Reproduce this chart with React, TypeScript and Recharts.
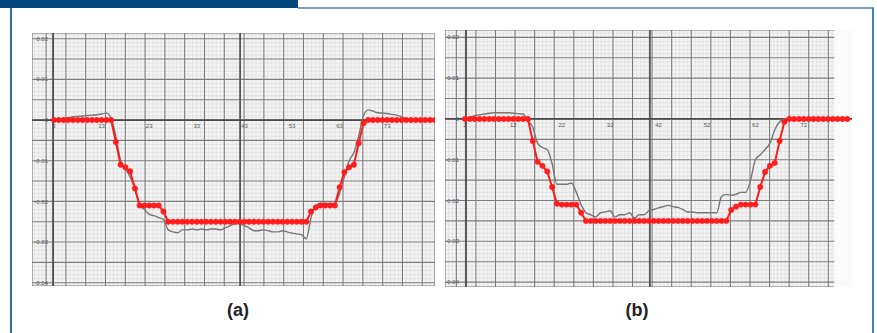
import React from 'react';
import {
  LineChart,
  Line,
  XAxis,
  YAxis,
  CartesianGrid,
  ReferenceLine,
  ReferenceDot,
  ReferenceArea,
} from 'recharts';

// panel (a): positions 3..83
const daysA = [
  3, 4, 5, 6, 7, 8, 9, 10, 11, 12, 13, 14, 15, 16, 17, 18, 19, 20, 21, 22, 23, 24, 25, 26, 27, 28, 29,
  30, 31, 32, 33, 34, 35, 36, 37, 38, 39, 40, 41, 42, 43, 44, 45, 46, 47, 48, 49, 50, 51, 52, 53, 54, 55,
  56, 57, 58, 59, 60, 61, 62, 63, 64, 65, 66, 67, 68, 69, 70, 71, 72, 73, 74, 75, 76, 77, 78, 79, 80, 81,
  82, 83,
];
const redA = [
  0, 0, 0, 0, 0, 0, 0, 0, 0, 0, 0, 0, 0,
  -0.0054, -0.011, -0.0116, -0.0126, -0.0168, -0.021, -0.021, -0.021, -0.021, -0.021, -0.0225,
  -0.025, -0.025, -0.025, -0.025, -0.025, -0.025, -0.025, -0.025, -0.025, -0.025,
  -0.025, -0.025, -0.025, -0.025, -0.025, -0.025, -0.025, -0.025, -0.025, -0.025,
  -0.025, -0.025, -0.025, -0.025, -0.025, -0.025, -0.025, -0.025, -0.025, -0.025,
  -0.0225, -0.0215, -0.021, -0.021, -0.021, -0.021,
  -0.0165, -0.0128, -0.0116, -0.011, -0.0057, -0.0008,
  0, 0, 0, 0, 0, 0, 0, 0, 0, 0, 0, 0, 0, 0, 0,
];
const grayA = [
  0, 0.0002, 0.0004, 0.0006, 0.0008, 0.0009, 0.001, 0.0011, 0.0012, 0.0013, 0.0015, 0.0017, 0.0005,
  -0.004, -0.01, -0.012, -0.014, -0.017, -0.021, -0.022, -0.0232, -0.0235, -0.024, -0.0245,
  -0.027, -0.0275, -0.0277, -0.027, -0.027, -0.0268, -0.027, -0.0268, -0.027, -0.0268,
  -0.0268, -0.027, -0.0265, -0.026, -0.0255, -0.0255, -0.026, -0.0265, -0.0272, -0.0272,
  -0.027, -0.0272, -0.0275, -0.0275, -0.0272, -0.0275, -0.0278, -0.028, -0.0282, -0.0292,
  -0.024, -0.021, -0.0205, -0.0205, -0.0205, -0.0205,
  -0.018, -0.014, -0.01, -0.008, -0.004, 0.001,
  0.0025, 0.0022, 0.0018, 0.0017, 0.0016, 0.0014, 0.0012, 0.0008, 0.0004, 0.0002, 0, -0.0001, -0.0003,
  -0.0001, 0,
];

// panel (b): positions 2..81
const daysB = [
  2, 3, 4, 5, 6, 7, 8, 9, 10, 11, 12, 13, 14, 15, 16, 17, 18, 19, 20, 21, 22, 23, 24, 25, 26, 27, 28, 29,
  30, 31, 32, 33, 34, 35, 36, 37, 38, 39, 40, 41, 42, 43, 44, 45, 46, 47, 48, 49, 50, 51, 52, 53, 54, 55,
  56, 57, 58, 59, 60, 61, 62, 63, 64, 65, 66, 67, 68, 69, 70, 71, 72, 73, 74, 75, 76, 77, 78, 79, 80, 81,
];
const redB = [
  0, 0, 0, 0, 0, 0, 0, 0, 0, 0, 0, 0, 0, 0,
  -0.0054, -0.0105, -0.0115, -0.0129, -0.0167, -0.0208, -0.021, -0.021, -0.021, -0.021, -0.023,
  -0.025, -0.025, -0.025, -0.025, -0.025, -0.025, -0.025, -0.025, -0.025, -0.025,
  -0.025, -0.025, -0.025, -0.025, -0.025, -0.025, -0.025, -0.025, -0.025, -0.025,
  -0.025, -0.025, -0.025, -0.025, -0.025, -0.025, -0.025, -0.025, -0.025, -0.025,
  -0.0223, -0.0215, -0.021, -0.021, -0.021, -0.021,
  -0.0167, -0.013, -0.0115, -0.0108, -0.0054, -0.0007,
  0, 0, 0, 0, 0, 0, 0, 0, 0, 0, 0, 0, 0,
];
const grayB = [
  0, 0.0004, 0.0008, 0.001, 0.0012, 0.0014, 0.0015, 0.0015, 0.0015, 0.0015, 0.0014, 0.0013, 0.0012,
  -0.0005, -0.002, -0.006, -0.007, -0.0075, -0.011, -0.016, -0.016, -0.016, -0.0157, -0.018, -0.021,
  -0.023, -0.0235, -0.024, -0.023, -0.0228, -0.0225, -0.024, -0.0235, -0.0235, -0.023, -0.0243,
  -0.0235, -0.0235, -0.0225, -0.0222, -0.0218, -0.0215, -0.0212, -0.0215, -0.0217, -0.0222, -0.0228,
  -0.0228, -0.023, -0.023, -0.023, -0.023, -0.023, -0.019, -0.0185, -0.0187, -0.0185, -0.018, -0.018,
  -0.015, -0.01, -0.0088, -0.0075, -0.006, -0.0027, -0.0007, 0,
  0, 0, 0, 0, 0, 0, 0, 0, 0, 0, 0, 0, 0,
];

const yLabels = [0.02, 0.01, 0, -0.01, -0.02, -0.03, -0.04];
const xLabelsA = [3, 13, 23, 33, 43, 53, 63, 73];
const xLabelsB = [2, 12, 22, 32, 42, 52, 62, 72];

// graph paper lines
const majorXA = [-1.13, 2.8, 6.73, 10.66, 14.59, 18.52, 22.45, 26.38, 30.31, 34.24, 38.17, 42.1, 46.03, 49.96, 53.89, 57.82, 61.75, 65.68, 69.61, 73.54, 77.47, 81.4];
const majorXB = [-1.6, 2.2, 6.0, 9.8, 13.6, 17.4, 21.2, 25.0, 28.8, 32.6, 36.4, 40.2, 44.0, 47.8, 51.6, 55.4, 59.2, 63.0, 66.8, 70.6, 74.4, 78.2];
const majorY = [0.02, 0.015, 0.01, 0.005, 0, -0.005, -0.01, -0.015, -0.02, -0.025, -0.03, -0.035, -0.04];

const subdivide = (major: number[], n: number, lo: number, hi: number) => {
  const s = [...major].sort((a, b) => a - b);
  const out: number[] = [];
  const step = (s[1] - s[0]) / n;
  for (let v = s[0] - step; v > lo; v -= step) out.push(v);
  for (let i = 0; i < s.length - 1; i++) {
    for (let k = 1; k < n; k++) out.push(s[i] + ((s[i + 1] - s[i]) * k) / n);
  }
  for (let v = s[s.length - 1] + step; v < hi; v += step) out.push(v);
  return out.sort((a, b) => a - b);
};

const FONT = '"Liberation Sans", Arial, sans-serif';

interface PanelProps {
  days: number[];
  red: number[];
  gray: number[];
  xLabels: number[];
  majorX: number[];
  xDomain: [number, number];
  yDomain: [number, number];
  axisX: number;
  centerX: number;
  yLabelX: number;
  paperEnd?: number;
  width: number;
  height: number;
  left: number;
  top: number;
}

function Panel(p: PanelProps) {
  const data = p.days.map((d, i) => ({ x: d, red: p.red[i], gray: p.gray[i] }));
  const minorX = subdivide(p.majorX, 5, p.xDomain[0], p.xDomain[1]);
  const minorY = subdivide(majorY, 5, p.yDomain[0], p.yDomain[1]);
  return (
    <div style={{ position: 'absolute', left: p.left, top: p.top }}>
      <LineChart width={p.width} height={p.height} data={data} margin={{ top: 0, right: 0, bottom: 0, left: 0 }}>
        <XAxis dataKey="x" type="number" domain={p.xDomain} hide allowDataOverflow />
        <YAxis type="number" domain={p.yDomain} hide allowDataOverflow />
        <XAxis xAxisId="min" type="number" domain={p.xDomain} ticks={minorX} interval={0} hide allowDataOverflow />
        <YAxis yAxisId="min" type="number" domain={p.yDomain} ticks={minorY} interval={0} hide allowDataOverflow />
        <XAxis xAxisId="maj" type="number" domain={p.xDomain} ticks={p.majorX} interval={0} hide allowDataOverflow />
        <YAxis yAxisId="maj" type="number" domain={p.yDomain} ticks={majorY} interval={0} hide allowDataOverflow />
        <CartesianGrid xAxisId="min" yAxisId="min" fill="#f4f4f4" stroke="#dadada" strokeWidth={0.6} />
        <CartesianGrid xAxisId="maj" yAxisId="maj" stroke="#7c7c7c" strokeWidth={1.1} />
        {p.paperEnd !== undefined && (
          <ReferenceArea x1={p.paperEnd} x2={p.xDomain[1]} fill="#fafafa" fillOpacity={1} stroke="none" ifOverflow="visible" />
        )}
        <ReferenceLine x={p.centerX} stroke="#555" strokeWidth={1.8} />
        <ReferenceLine x={p.axisX} stroke="#4a4a4a" strokeWidth={1.8} />
        <ReferenceLine y={0} stroke="#4a4a4a" strokeWidth={1.8} />
        {yLabels.map((v) => (
          <ReferenceDot
            key={'y' + v}
            x={p.yLabelX}
            y={v}
            r={0}
            fill="none"
            stroke="none"
            label={{ value: String(v), position: 'left', offset: 0, fontSize: 6, fill: '#555', fontFamily: FONT }}
          />
        ))}
        {p.xLabels.map((t) => (
          <ReferenceDot
            key={'x' + t}
            x={t}
            y={0}
            r={0}
            fill="none"
            stroke="none"
            label={{ value: String(t), position: 'bottom', offset: 4, fontSize: 6, fill: '#555', fontFamily: FONT }}
          />
        ))}
        <Line type="monotone" dataKey="gray" stroke="#767676" strokeWidth={1.4} dot={false} isAnimationActive={false} />
        <Line
          type="linear"
          dataKey="red"
          stroke="#ff1c1c"
          strokeWidth={2}
          dot={{ r: 2.7, fill: '#ff1c1c', stroke: '#ff1c1c', strokeWidth: 0.5 }}
          isAnimationActive={false}
        />
      </LineChart>
    </div>
  );
}

export default function App() {
  return (
    <div style={{ position: 'absolute', left: 0, top: 0, width: 877, height: 333, background: '#fff', fontFamily: FONT, overflow: 'hidden' }}>
      <div style={{ position: 'absolute', left: 0, top: 0, width: 298, height: 8, background: '#03477d' }} />
      <div style={{ position: 'absolute', left: 298, top: 7, width: 576, height: 1.5, background: '#7b9dbf' }} />
      <div style={{ position: 'absolute', left: 10, top: 8, width: 1.5, height: 325, background: '#2f6ea4' }} />
      <div style={{ position: 'absolute', left: 872, top: 8, width: 1.5, height: 325, background: '#4a7fae' }} />

      <Panel
        days={daysA}
        red={redA}
        gray={grayA}
        xLabels={xLabelsA}
        majorX={majorXA}
        xDomain={[-1.62, 83.04]}
        yDomain={[-0.0408, 0.0214]}
        axisX={2.8}
        centerX={42.1}
        yLabelX={1.74}
        width={403}
        height={253}
        left={32}
        top={33}
      />
      <Panel
        days={daysB}
        red={redB}
        gray={grayB}
        xLabels={xLabelsB}
        majorX={majorXB}
        xDomain={[-2.13, 81.96]}
        yDomain={[-0.0412, 0.0218]}
        axisX={2.2}
        centerX={40.2}
        yLabelX={0.76}
        paperEnd={78.3}
        width={407}
        height={257}
        left={445}
        top={30}
      />

      <div style={{ position: 'absolute', left: 198, top: 300, width: 80, textAlign: 'center', fontSize: 18, fontWeight: 'bold', color: '#222' }}>
        (a)
      </div>
      <div style={{ position: 'absolute', left: 597, top: 300, width: 80, textAlign: 'center', fontSize: 18, fontWeight: 'bold', color: '#222' }}>
        (b)
      </div>
    </div>
  );
}
